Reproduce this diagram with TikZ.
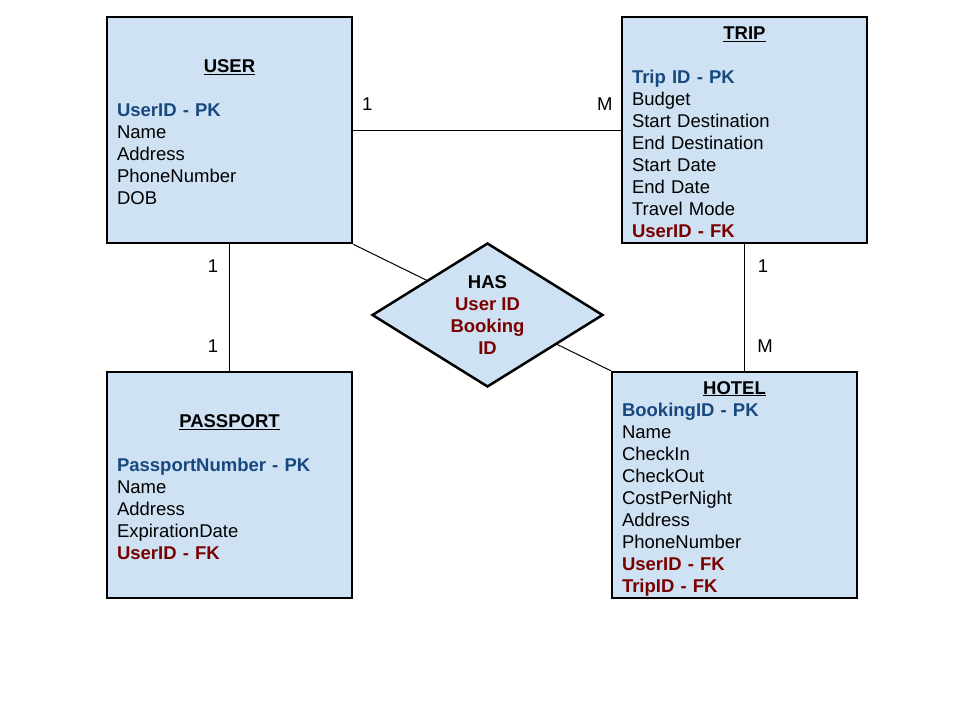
\documentclass[tikz,border=0pt]{standalone}
\usepackage{fontspec}
\setmainfont{Liberation Sans}
\usepackage{tikz}
\usetikzlibrary{positioning, shapes.geometric}
\definecolor{entfill}{RGB}{207,226,243}
\definecolor{pkblue}{RGB}{23,72,128}
\definecolor{fkred}{RGB}{122,0,0}
\newcommand{\enttitle}[1]{\makebox[225pt]{\underline{\textbf{#1}}}}
\newcommand{\pk}[1]{\textcolor{pkblue}{\textbf{#1}}}
\newcommand{\fk}[1]{\textcolor{fkred}{\textbf{#1}}}

\begin{document}
\begin{tikzpicture}[x=1pt,y=-1pt,
    every node/.style={font=\fontsize{18.5}{22}\selectfont},
    entity/.style={draw,line width=2.5pt,fill=entfill,rectangle,minimum width=245pt,minimum height=226pt,text width=225pt,text height=17pt,inner xsep=10pt,inner ysep=2pt,align=left},
    relation/.style={draw,line width=2.5pt,fill=entfill,diamond,aspect=1.6,minimum width=231pt,minimum height=144pt,inner sep=0pt,align=center},
    card/.style={inner sep=0pt},
    link/.style={line width=1pt}]
    \useasboundingbox (0,0) rectangle (960,720);
    % Entities
    \node[entity] (user) at (229.5,130) {\enttitle{USER}\\[22pt]
        \pk{UserID - PK}\\ Name\\ Address\\ PhoneNumber\\ DOB};
    \node[entity,right=267.5pt of user] (trip) {\enttitle{TRIP}\\[22pt]
        \pk{Trip ID - PK}\\ Budget\\ Start Destination\\ End Destination\\ Start Date\\ End Date\\ Travel Mode\\ \fk{UserID - FK}};
    \node[entity,below=126.5pt of user] (passport) {\enttitle{PASSPORT}\\[22pt]
        \pk{PassportNumber - PK}\\ Name\\ Address\\ ExpirationDate\\ \fk{UserID - FK}};
    \node[entity,right=257.5pt of passport,text height=20pt] (hotel) {\enttitle{HOTEL}\\
        \pk{BookingID - PK}\\ Name\\ CheckIn\\ CheckOut\\ CostPerNight\\ Address\\ PhoneNumber\\ \fk{UserID - FK}\\ \fk{TripID - FK}};
    % Relationships
    \draw[link] (user) -- (trip);
    \draw[link] (user) -- (passport);
    \draw[link] (trip.south) -- (trip.south |- hotel.north);
    \draw[link] (user.south east) -- (hotel.north west);
    \node[relation] (has) at (487.5,315) {\textbf{HAS}\\ \fk{User ID}\\ \fk{Booking}\\ \fk{ID}};
    % Cardinalities
    \node[card] (c1) at ([xshift=14pt,yshift=26pt]user.east) {1};
    \node[card] (c2) at ([xshift=-16pt,yshift=26pt]trip.west) {M};
    \node[card] (c3) at ([xshift=-16.5pt,yshift=-22pt]user.south) {1};
    \node[card] (c4) at ([xshift=-16.5pt,yshift=25pt]passport.north) {1};
    \node[card] (c5) at ([xshift=18.5pt,yshift=-22pt]trip.south) {1};
    \node[card] (c6) at ([xshift=30.5pt,yshift=25pt]hotel.north) {M};
\end{tikzpicture}
\end{document}
